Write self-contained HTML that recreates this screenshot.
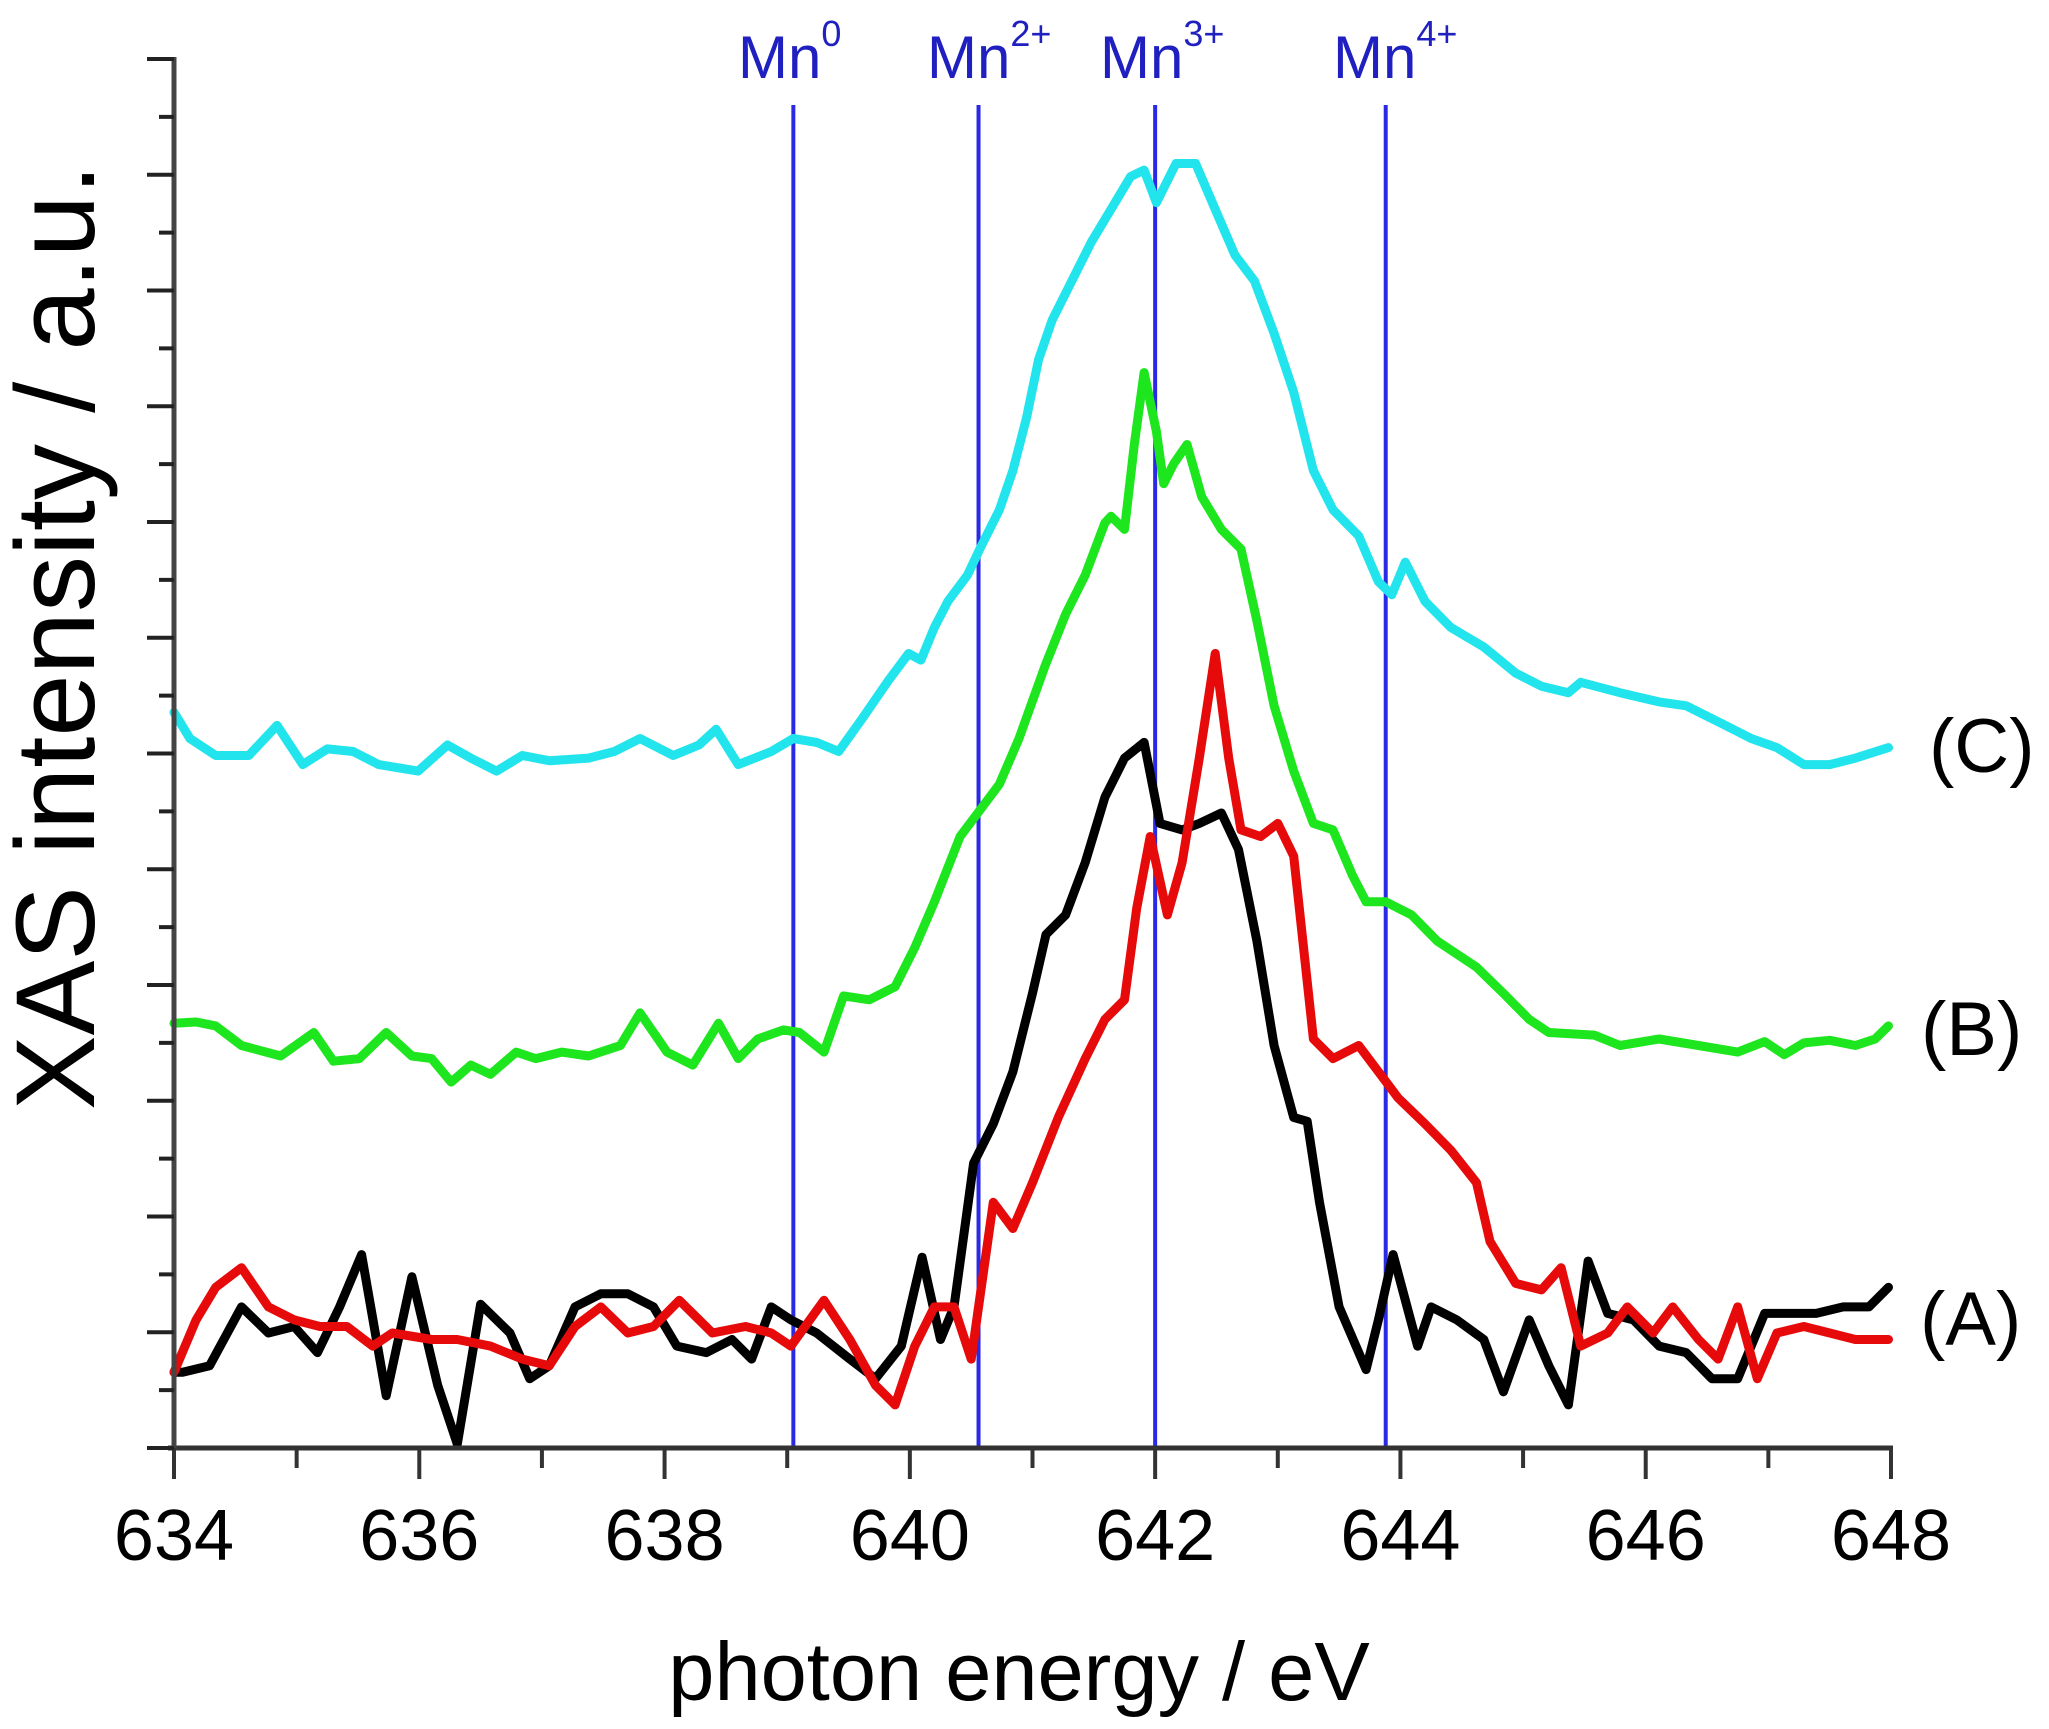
<!DOCTYPE html>
<html><head><meta charset="utf-8">
<style>
html,body{margin:0;padding:0;background:#fff;}
svg{display:block;}
text{font-family:"Liberation Sans",Arial,sans-serif;}
</style></head>
<body>
<svg id="chart" width="2049" height="1729" viewBox="0 0 2049 1729" xmlns="http://www.w3.org/2000/svg">
  <rect width="2049" height="1729" fill="#fff"/>
  <g id="grid-ref"></g>
  <g id="series"></g>
  <g id="axes"></g>
  <text x="1019" y="1700" font-size="83" text-anchor="middle" fill="#000">photon energy / eV</text>
  <text transform="translate(94,637) rotate(-90)" font-size="112" text-anchor="middle" fill="#000">XAS intensity / a.u.</text>
  <text x="1929" y="772" font-size="76" fill="#000">(C)</text>
  <text x="1921" y="1055" font-size="76" fill="#000">(B)</text>
  <text x="1920" y="1345" font-size="76" fill="#000">(A)</text>
</svg>
<script>
const xTicks = [634,636,638,640,642,644,646,648];
const refEnergies = [639.05, 640.56, 642.0, 643.88];
const refLabels = ["0","2+","3+","4+"];

const cX = [634.00,634.13,634.34,634.61,634.84,635.05,635.25,635.46,635.67,635.99,636.23,636.42,636.63,636.84,637.06,637.38,637.59,637.80,638.07,638.28,638.42,638.60,638.87,639.05,639.24,639.42,639.61,639.83,639.99,640.09,640.20,640.31,640.47,640.57,640.73,640.84,640.95,641.05,641.16,641.32,641.48,641.64,641.80,641.91,642.01,642.17,642.33,642.49,642.65,642.81,642.97,643.13,643.29,643.45,643.66,643.82,643.93,644.04,644.20,644.41,644.68,644.94,645.15,645.37,645.47,645.79,646.11,646.33,646.65,646.86,647.07,647.29,647.50,647.71,647.98];
const cY = [563,543,530,530,553,523,535,533,523,518,538,528,518,530,526,528,533,543,530,538,550,523,533,543,540,533,558,588,608,603,628,648,668,688,718,748,788,833,863,893,923,948,973,978,953,983,983,948,913,893,853,808,748,718,698,663,653,678,648,628,613,593,583,578,586,578,571,568,553,543,536,523,523,528,536];

const bX = [634.00,634.18,634.34,634.55,634.87,635.14,635.30,635.51,635.73,635.94,636.10,636.26,636.42,636.58,636.79,636.95,637.16,637.38,637.64,637.80,638.02,638.23,638.44,638.60,638.76,638.97,639.10,639.30,639.46,639.67,639.88,640.04,640.20,640.41,640.57,640.73,640.89,641.10,641.27,641.43,641.59,641.64,641.75,641.83,641.91,642.01,642.07,642.15,642.26,642.38,642.54,642.70,642.83,642.97,643.13,643.29,643.45,643.61,643.72,643.88,644.09,644.30,644.62,644.84,645.05,645.21,645.58,645.79,646.11,646.43,646.75,646.97,647.13,647.29,647.50,647.71,647.87,647.98];
const bY = [325,326,323,308,300,318,296,298,318,300,298,280,293,286,303,298,303,300,308,333,303,293,325,298,313,320,318,303,346,343,353,383,418,468,488,508,543,598,638,668,708,713,703,768,823,778,738,753,768,728,703,688,633,568,518,478,473,438,418,418,408,388,368,348,328,318,316,308,313,308,303,311,301,310,312,308,313,323];

const kX = [634.00,634.07,634.29,634.55,634.77,634.98,635.17,635.35,635.53,635.73,635.94,636.15,636.31,636.50,636.74,636.90,637.06,637.27,637.48,637.70,637.91,638.10,638.34,638.55,638.71,638.87,639.03,639.24,639.51,639.72,639.93,640.10,640.25,640.36,640.52,640.68,640.84,641.00,641.11,641.27,641.43,641.59,641.75,641.91,642.04,642.22,642.36,642.54,642.68,642.83,642.97,643.13,643.24,643.34,643.50,643.72,643.82,643.94,644.14,644.25,644.46,644.68,644.84,645.05,645.21,645.37,645.53,645.69,645.90,646.11,646.33,646.54,646.75,646.97,647.18,647.39,647.61,647.82,647.98];
const kY = [58,58,63,108,88,93,73,108,148,40,131,48,3,110,88,53,63,108,118,118,108,78,73,83,68,108,98,88,68,53,78,146,83,108,218,248,288,348,393,408,448,498,528,540,478,473,478,486,458,388,308,253,250,188,108,60,98,148,78,108,98,83,43,98,63,33,143,103,98,78,73,53,53,103,103,103,108,108,123];

const rX = [634.00,634.18,634.34,634.55,634.77,634.98,635.19,635.41,635.62,635.78,636.10,636.31,636.58,636.84,637.06,637.27,637.48,637.70,637.91,638.12,638.39,638.66,638.87,639.03,639.30,639.51,639.72,639.88,640.04,640.20,640.36,640.50,640.68,640.84,641.00,641.21,641.43,641.59,641.75,641.85,641.96,642.10,642.22,642.36,642.49,642.60,642.70,642.86,643.00,643.13,643.29,643.45,643.66,643.82,643.98,644.20,644.41,644.62,644.73,644.94,645.15,645.31,645.47,645.69,645.85,646.06,646.22,646.43,646.59,646.75,646.91,647.07,647.29,647.50,647.71,647.98];
const rY = [58,98,123,138,108,98,93,93,78,88,83,83,78,68,63,93,108,88,93,113,88,93,88,78,113,83,48,33,78,108,108,68,188,168,203,253,298,328,343,413,468,408,448,528,608,528,473,468,478,453,313,298,308,288,268,248,228,203,158,126,121,138,78,88,108,88,108,83,68,108,53,88,93,88,83,83];

const X0=174, X1=1891, Y0=1448, Y1=59;
const xMin=634, xMax=648, yMin=0, yMax=1063;
function sx(v){return X0+(v-xMin)/(xMax-xMin)*(X1-X0);}
function sy(v){return Y0-(v-yMin)/(yMax-yMin)*(Y0-Y1);}
const NS="http://www.w3.org/2000/svg";
function mk(tag,attrs,parent){const e=document.createElementNS(NS,tag);for(const k in attrs)e.setAttribute(k,attrs[k]);parent.appendChild(e);return e;}

const refG=document.getElementById('grid-ref');
const refStarts=[738,927,1100,1333];
refEnergies.forEach((en,i)=>{
  const l=mk('line',{x1:sx(en),x2:sx(en),y1:105,y2:Y0,stroke:'#2a2ae6','stroke-width':4},refG);
  
  
  const t=mk('text',{x:refStarts[i],y:78,'font-size':60,fill:'#2020c0'},refG);
  
  
  t.textContent='Mn';
  const s=mk('tspan',{dy:-32,'font-size':36},t);
  s.textContent=refLabels[i];
});

const serG=document.getElementById('series');
function drawSeries(xs,ys,color,name){
  const n=Math.min(xs.length,ys.length);
  let d='';
  for(let i=0;i<n;i++){d+=(i?'L':'M')+sx(xs[i]).toFixed(1)+','+sy(ys[i]).toFixed(1);}
  const p=mk('path',{d:d,fill:'none',stroke:color,'stroke-width':9,'stroke-linejoin':'round','stroke-linecap':'round'},serG);
  
  
}
drawSeries(cX,cY,'#22e4ec','series-c-cyan');
drawSeries(bX,bY,'#1ee61e','series-b-green');
drawSeries(kX,kY,'#000000','series-a-black');
drawSeries(rX,rY,'#e60a0a','series-a-red');

const ax=document.getElementById('axes');
const xa=mk('line',{x1:X0-6,x2:X1+2,y1:Y0,y2:Y0,stroke:'#333','stroke-width':5},ax);


const ya=mk('line',{x1:X0,x2:X0,y1:Y1-2,y2:Y0+2,stroke:'#444','stroke-width':5},ax);


for(let v=xMin;v<=xMax;v++){
  const major=(v%2===0);
  const t=mk('line',{x1:sx(v),x2:sx(v),y1:Y0,y2:Y0+(major?31:20),stroke:'#333','stroke-width':4},ax);
  
  
}
xTicks.forEach(v=>{
  const t=mk('text',{x:sx(v),y:1560,'font-size':72,'text-anchor':'middle',fill:'#000'},ax);
  
  
  t.textContent=v;
});
for(let k=0;k<=24;k++){
  const y=Y0-k*(Y0-Y1)/24;
  const major=(k%2===0);
  const t=mk('line',{x1:X0-(major?27:15),x2:X0,y1:y,y2:y,stroke:'#222','stroke-width':4},ax);
  
  
}
</script>
</body></html>
